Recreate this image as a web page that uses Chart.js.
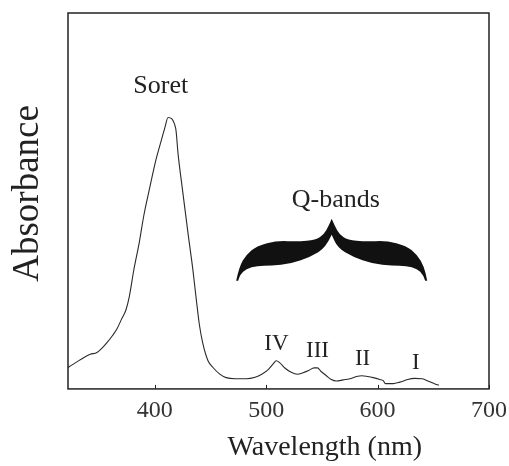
<!DOCTYPE html>
<html>
<head>
<meta charset="utf-8">
<script src="https://cdn.jsdelivr.net/npm/chart.js@4"></script>
<style>
  body { margin: 0; background: #fff; }
  #wrap { width: 509px; height: 466px; }
</style>
</head>
<body>
<div id="wrap"><canvas id="myChart" width="509" height="466"></canvas></div>
<script>
/* spectrum (absorbance in arbitrary units) */
var wavelength = [322, 330, 336, 342, 348, 353, 357, 362, 366, 370, 374, 377, 381, 386, 390, 395, 401, 405, 409, 411.8, 418.7, 420.8, 425, 429.8, 434, 437.3, 440, 443.2, 447.7, 452.2, 458, 464, 472, 482, 490, 496, 502, 506, 509, 512, 517, 522, 528, 533, 538, 543, 546, 549, 554, 558, 563, 569, 575, 581, 586, 591, 596, 602, 605, 607, 614, 620, 627, 633, 640, 646, 651, 655];
var absorbance = [0.057, 0.072, 0.083, 0.092, 0.097, 0.110, 0.123, 0.142, 0.160, 0.185, 0.210, 0.245, 0.315, 0.390, 0.460, 0.530, 0.610, 0.653, 0.695, 0.722, 0.693, 0.626, 0.525, 0.413, 0.320, 0.235, 0.170, 0.119, 0.075, 0.057, 0.040, 0.030, 0.027, 0.027, 0.031, 0.039, 0.052, 0.066, 0.075, 0.070, 0.055, 0.045, 0.039, 0.043, 0.049, 0.056, 0.056, 0.047, 0.035, 0.026, 0.021, 0.024, 0.027, 0.033, 0.035, 0.033, 0.030, 0.025, 0.022, 0.014, 0.014, 0.018, 0.025, 0.028, 0.027, 0.020, 0.014, 0.010];

var xTicks = [400, 500, 600, 700];
var xMin = 322;
var xMax = 700;

/* peak labels, placed in data units */
var noteText = ["Soret", "Q-bands", "IV", "III", "II", "I"];
var noteX = [405.3, 562.5, 509.2, 546, 586.5, 634.3];
var noteY = [0.805, 0.501, 0.12, 0.101, 0.080, 0.069];

// brace under "Q-bands"
var braceFrom = 473;
var braceTo = 644.5;
var braceTop = 0.453;
var braceBottom = 0.288;

var xTitle = "Wavelength (nm)";
var yTitle = "Absorbance";

var serif = "'Liberation Serif', 'Times New Roman', serif";
var ink = "#222";

function smooth(ctx, pts) {
  // quadratic through midpoints, path already at pts[0]
  for (var i = 1; i < pts.length - 1; i++) {
    var mx = (pts[i][0] + pts[i + 1][0]) / 2;
    var my = (pts[i][1] + pts[i + 1][1]) / 2;
    ctx.quadraticCurveTo(pts[i][0], pts[i][1], mx, my);
  }
  ctx.lineTo(pts[pts.length - 1][0], pts[pts.length - 1][1]);
}

function drawBrace(ctx, x, y) {
  var L = x.getPixelForValue(braceFrom);
  var R = x.getPixelForValue(braceTo);
  var T = y.getPixelForValue(braceTop);
  var B = y.getPixelForValue(braceBottom);
  var sx = (R - L) / 192;
  var sy = (B - T) / 62;

  // left half outline in local units, tip -> peak, and notch -> tip
  var top = [[0, 62], [3, 48], [10, 36], [21, 27], [41, 22], [62, 23], [80, 21], [88, 16], [93, 7], [96, 0]];
  var bot = [[96, 16], [90, 29], [75, 38], [55, 45], [35, 47], [21, 47], [10, 50], [4, 56], [2, 62]];

  function px(p) { return [L + p[0] * sx, T + p[1] * sy]; }
  function mirror(p) { return [192 - p[0], p[1]]; }

  var leftTop = top.map(px);
  var rightTop = top.slice().reverse().map(mirror).map(px);
  var rightBot = bot.slice().reverse().map(mirror).map(px);
  var leftBot = bot.map(px);

  ctx.beginPath();
  ctx.moveTo(leftTop[0][0], leftTop[0][1]);
  smooth(ctx, leftTop);
  smooth(ctx, rightTop);
  ctx.lineTo(rightBot[0][0], rightBot[0][1]);
  smooth(ctx, rightBot);
  smooth(ctx, leftBot);
  ctx.closePath();
  ctx.fillStyle = "#111";
  ctx.fill();
}

var extras = {
  id: "extras",
  afterDatasetsDraw: function (chart) {
    var ctx = chart.ctx;
    var a = chart.chartArea;
    var x = chart.scales.x;
    var y = chart.scales.y;
    ctx.save();

    // box round the plot
    ctx.strokeStyle = ink;
    ctx.lineWidth = 1.5;
    ctx.strokeRect(a.left, a.top, a.right - a.left, a.bottom - a.top);

    // small ticks pointing inside
    ctx.lineWidth = 1;
    xTicks.forEach(function (v) {
      var p = Math.round(x.getPixelForValue(v)) + 0.5;
      ctx.beginPath();
      ctx.moveTo(p, a.bottom);
      ctx.lineTo(p, a.bottom - 4);
      ctx.stroke();
    });

    // labels
    ctx.fillStyle = ink;
    ctx.textAlign = "center";
    ctx.textBaseline = "middle";
    for (var i = 0; i < noteText.length; i++) {
      var size = i < 2 ? 26 : 23;
      ctx.font = size + "px " + serif;
      ctx.fillText(noteText[i], x.getPixelForValue(noteX[i]), y.getPixelForValue(noteY[i]));
    }

    drawBrace(ctx, x, y);

    // axis titles
    ctx.fillStyle = ink;
    ctx.font = "28px " + serif;
    ctx.fillText(xTitle, a.left + (a.right - a.left) * 0.61, a.bottom + 59);

    ctx.save();
    ctx.translate(a.left - 40, a.top + (a.bottom - a.top) * 0.48);
    ctx.rotate(-Math.PI / 2);
    ctx.font = "37px " + serif;
    ctx.fillText(yTitle, 0, 0);
    ctx.restore();

    ctx.restore();
  }
};

var points = wavelength.map(function (w, i) {
  return { x: w, y: absorbance[i] };
});

var ctx = document.getElementById("myChart");

var chart = new Chart(ctx, {
  type: "line",
  data: {
    datasets: [
      {
        label: "Absorbance",
        data: points,
        borderColor: "#2a2a2a",
        borderWidth: 1.1,
        pointRadius: 0,
        fill: false,
        tension: 0.3,
        cubicInterpolationMode: "monotone"
      }
    ]
  },
  options: {
    responsive: false,
    animation: false,
    devicePixelRatio: 1,
    layout: {
      padding: { left: 68, right: 19, top: 13, bottom: 33 }
    },
    plugins: {
      legend: { display: false },
      tooltip: { enabled: false }
    },
    scales: {
      x: {
        type: "linear",
        min: xMin,
        max: xMax,
        afterBuildTicks: function (axis) {
          axis.ticks = xTicks.map(function (v) { return { value: v }; });
        },
        grid: { display: false, drawTicks: false },
        border: { display: false },
        ticks: {
          padding: 2,
          color: "#333",
          maxRotation: 0,
          font: { family: serif, size: 24, lineHeight: 1.67 }
        }
      },
      y: {
        display: false,
        min: 0,
        max: 1
      }
    }
  },
  plugins: [extras]
});
</script>
</body>
</html>
